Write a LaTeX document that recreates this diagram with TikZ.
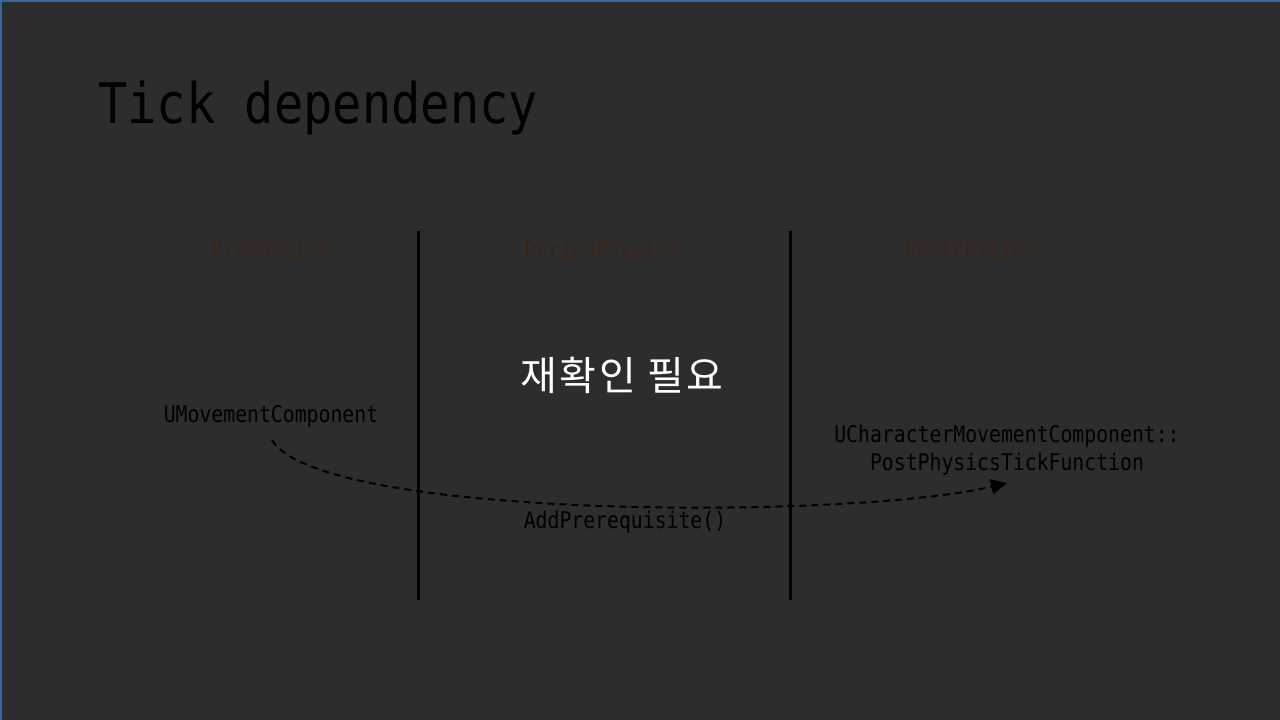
\documentclass[tikz,border=0pt]{standalone}
\usepackage{fontspec}
\usetikzlibrary{arrows.meta}
\newfontfamily\monof[FakeStretch=0.86]{DejaVu Sans Mono}
\newfontfamily\titlef[FakeStretch=0.87]{DejaVu Sans Mono}
\newfontfamily\krf[LetterSpace=6]{Noto Sans CJK KR}
\definecolor{bgc}{HTML}{2D2D2D}
\definecolor{hdr}{HTML}{3B2519}
\definecolor{edge}{HTML}{3E6690}
\tikzset{
  title/.style={font=\titlef\fontsize{56}{60}\selectfont, text=black, anchor=base west, inner sep=0},
  header/.style={font=\monof\fontsize{23}{26}\selectfont, text=hdr, inner sep=0},
  label/.style={font=\monof\fontsize{23}{28}\selectfont, text=black, inner sep=0, align=center},
  korean/.style={font=\krf\fontsize{40}{44}\selectfont, text=white, inner sep=0},
  divider/.style={line width=3pt, black},
  dep/.style={line width=2pt, black, dash pattern=on 7pt off 5pt, -{Triangle[length=16pt,width=15pt]}}
}
\begin{document}
\begin{tikzpicture}[x=1pt,y=-1pt]
\fill[bgc] (0,0) rectangle (1280,720);
\useasboundingbox (0,0) rectangle (1280,720);
\draw[edge, line width=1.5pt] (0.75,720) -- (0.75,0.75) -- (1280,0.75);
\node[title] (t) at (98,123) {Tick dependency};
\node[header] (h1) at (271,251) {PrePhysics};
\node[header] (h2) at (602,251) {DuringPhysics};
\node[header] (h3) at (970,251) {PostPhysics};
\coordinate (l1a) at (418,231);
\coordinate (l1b) at (418,600);
\coordinate (l2a) at (790,231);
\coordinate (l2b) at (790,600);
\draw[divider] (l1a) -- (l1b);
\draw[divider] (l2a) -- (l2b);
\node[korean] (k) at (622,375) {재확인 필요};
\node[label] (um) at (271,416) {UMovementComponent};
\node[label] (ucm) at (1007,450) {UCharacterMovementComponent::\\PostPhysicsTickFunction};
\node[label] (ap) at (625,522) {AddPrerequisite()};
\coordinate (s) at (272,440);
\coordinate (e) at (1007,483);
\draw[dep] (s) .. controls (320,520) and (850,520) .. (e);
\end{tikzpicture}
\end{document}
